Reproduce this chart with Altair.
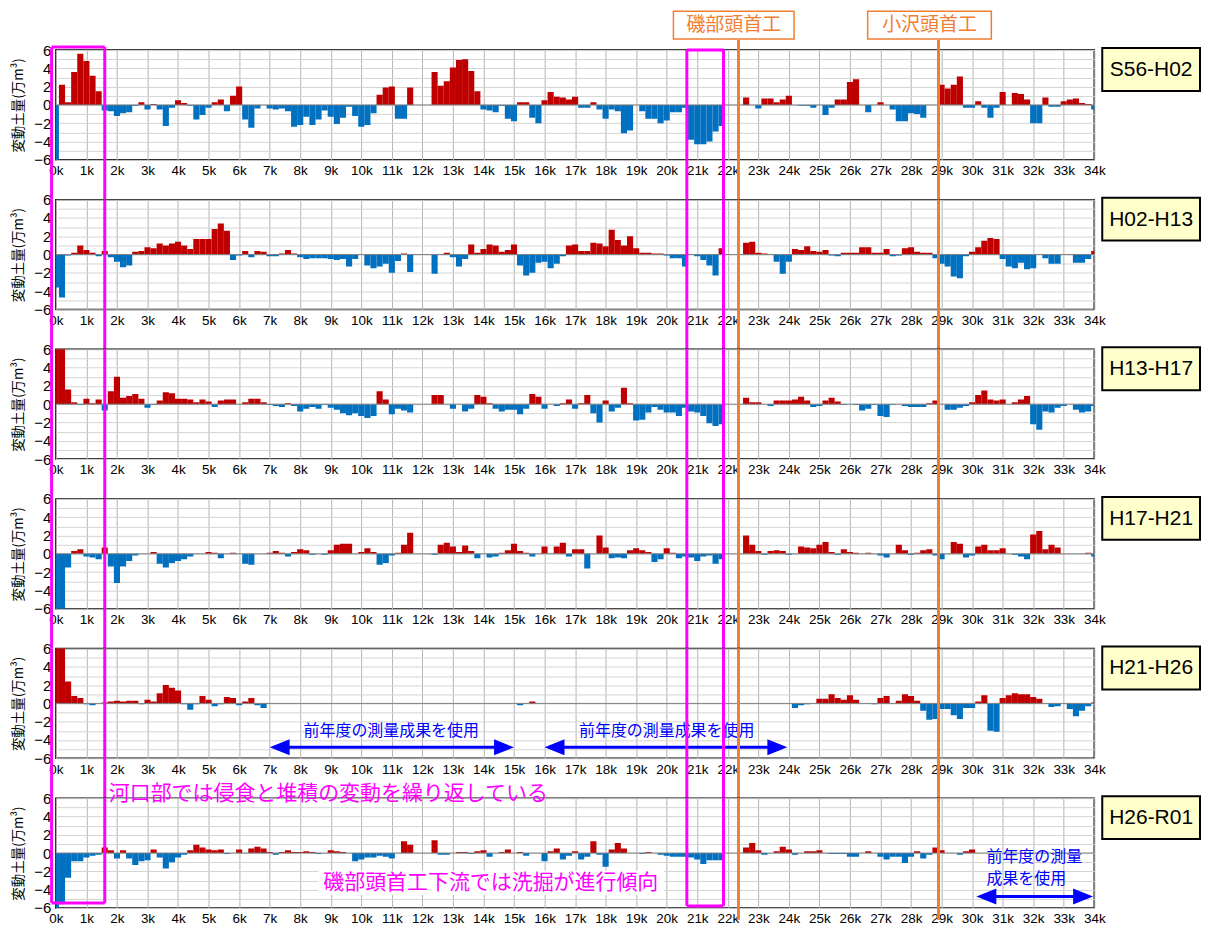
import altair as alt
import pandas as pd

# survey stations (k = km from river mouth), one bar every 0.2 km
KM = [round(i * 0.2, 1) for i in range(171)]
PERIODS = ["S56-H02", "H02-H13", "H13-H17", "H17-H21", "H21-H26", "H26-R01"]

S56_H02 = [
    -6.2, 2.2, 0.3, 3.6, 5.6,
    4.8, 3.2, 1.5, -0.6, -0.7,
    -1.2, -0.9, -0.8, -0.1, 0.3,
    -0.5, 0.1, -0.5, -2.3, -0.3,
    0.5, 0.2, -0.1, -1.6, -1.1,
    -0.3, 0.3, 0.6, -0.7, 1.0,
    2.0, -1.6, -2.5, -0.4, 0.0,
    -0.4, -0.5, -0.4, -0.7, -2.4,
    -2.2, -1.3, -2.2, -1.6, -0.6,
    -1.3, -2.1, -1.4, -0.2, -1.2,
    -2.4, -2.2, -0.9, 1.1, 1.9,
    2.0, -1.5, -1.5, 1.9, 0.0,
    0.0, 0.0, 3.6, 2.1, 2.6,
    4.1, 4.9, 5.0, 3.7, 1.5,
    -0.5, -0.6, -0.8, -0.1, -1.5,
    -1.8, 0.3, 0.3, -1.4, -2.0,
    0.5, 1.4, 0.9, 0.8, 0.6,
    0.9, -0.3, -0.3, 0.3, -0.5,
    -1.5, -0.5, -0.7, -3.1, -2.8,
    0.0, -0.7, -1.5, -1.5, -2.0,
    -1.7, -0.8, -0.8, -0.3, -3.8,
    -4.3, -4.3, -4.0, -2.9, -2.3,
    0.0, 0.0, 0.0, 0.8, 0.0,
    -0.4, 0.7, 0.7, 0.3, 0.6,
    1.0, 0.0, -0.1, -0.1, -0.3,
    0.0, -1.1, -0.3, 0.6, 0.6,
    2.5, 2.8, 0.0, -0.8, 0.0,
    0.3, 0.0, -0.5, -1.8, -1.8,
    -0.9, -1.0, -1.4, 0.0, 0.0,
    2.2, 1.8, 2.2, 3.1, -0.3,
    -0.3, 0.4, -0.3, -1.4, -0.3,
    1.4, 0.0, 1.3, 1.2, 0.6,
    -2.0, -2.0, 0.8, -0.2, -0.2,
    0.4, 0.6, 0.7, 0.2, 0.1,
    -0.5,
]

H02_H13 = [
    -3.6, -4.7, -0.1, 0.2, 1.0,
    0.5, 0.2, -0.2, 0.4, -0.3,
    -0.8, -1.4, -1.2, 0.3, 0.4,
    0.8, 0.7, 1.2, 1.0, 1.2,
    1.4, 1.0, 0.6, 1.7, 1.7,
    1.7, 2.8, 3.4, 2.6, -0.6,
    -0.1, 0.4, -0.3, 0.4, 0.3,
    -0.2, -0.2, 0.1, 0.5, 0.1,
    -0.3, -0.5, -0.4, -0.4, -0.4,
    -0.5, -0.6, -0.5, -1.3, -0.5,
    0.0, -1.2, -1.5, -1.3, -1.0,
    -2.0, -0.7, 0.1, -1.9, 0.0,
    0.0, 0.0, -2.1, 0.0, 0.2,
    -0.3, -1.3, -0.5, 1.1, 0.2,
    0.6, 1.1, 1.0, 0.3, 0.5,
    1.1, -1.2, -2.3, -2.0, -0.9,
    -0.8, -1.5, -1.0, -0.2, 1.0,
    1.1, 0.4, 0.4, 1.3, 1.2,
    0.9, 2.7, 1.6, 1.0, 2.0,
    0.7, 0.2, 0.2, 0.1, 0.1,
    -0.1, -0.4, -0.4, -1.3, 0.0,
    -0.2, -0.6, -1.2, -2.3, 0.7,
    0.0, 0.0, 0.0, 1.3, 1.4,
    0.2, 0.1, 0.0, -0.8, -2.1,
    -0.8, 0.6, 0.5, 0.9, 0.4,
    0.3, 0.5, -0.1, -0.2, 0.2,
    0.2, 0.2, 0.8, 0.8, 0.2,
    0.2, 0.6, -0.2, -0.1, 0.7,
    0.8, 0.3, 0.2, 0.2, -0.4,
    -1.0, -1.3, -2.4, -2.6, -0.2,
    0.3, 0.8, 1.5, 1.8, 1.7,
    -0.5, -1.3, -1.5, -0.9, -1.6,
    -1.5, 0.0, -0.4, -1.0, -1.0,
    0.0, 0.0, -0.9, -0.9, -0.5,
    0.4,
]

H13_H17 = [
    6.2, 6.2, 1.6, 0.2, -0.1,
    0.6, 0.1, 0.5, -0.7, 1.4,
    3.0, 0.7, 0.9, 1.1, 0.6,
    -0.4, -0.1, 0.4, 1.3, 1.2,
    0.6, 0.6, 0.5, 0.2, 0.5,
    0.3, -0.3, 0.4, 0.5, 0.5,
    0.0, 0.2, 0.6, 0.6, 0.2,
    -0.1, -0.2, -0.3, 0.1, -0.2,
    -0.8, -0.5, -0.3, -0.5, -0.1,
    -0.4, -0.6, -1.0, -1.2, -1.0,
    -1.3, -1.5, -1.3, 1.4, 0.5,
    -1.1, -0.5, -0.7, -0.9, 0.0,
    0.0, 0.0, 1.0, 1.0, 0.0,
    -0.5, 0.0, -0.8, -0.5, 1.0,
    0.8, 0.1, -0.5, -0.8, -0.6,
    -0.6, -1.1, -0.5, 1.1, 0.8,
    -0.5, 0.0, -0.2, 0.1, 0.5,
    -0.5, 0.1, 1.0, -1.0, -2.0,
    0.4, -0.8, -0.4, 1.8, 0.1,
    -1.8, -1.7, -0.9, -0.3, -0.6,
    -0.9, -0.9, -1.3, -0.4, -0.8,
    -0.9, -1.3, -2.1, -2.4, -2.2,
    0.0, 0.0, 0.0, 0.7, 0.2,
    0.2, 0.0, -0.2, 0.4, 0.4,
    0.4, 0.5, 0.8, 0.4, -0.3,
    -0.2, 0.4, 0.7, 0.3, -0.1,
    0.0, -0.1, -0.7, -0.5, -0.1,
    -1.3, -1.4, -0.1, 0.0, -0.2,
    -0.3, -0.3, -0.3, 0.1, 0.4,
    0.0, -0.6, -0.6, -0.4, -0.2,
    0.2, 1.0, 1.5, 0.5, 0.4,
    0.5, 0.0, 0.2, 0.5, 0.9,
    -2.2, -2.8, -0.8, -0.9, -0.4,
    -0.2, 0.0, -0.6, -0.9, -0.8,
    -0.2,
]

H17_H21 = [
    -6.2, -6.2, -1.5, 0.3, 0.5,
    -0.3, -0.4, -0.6, 0.7, -1.4,
    -3.2, -1.4, -0.8, -0.2, 0.0,
    0.0, 0.2, -1.1, -1.5, -1.0,
    -0.8, -0.6, -0.3, 0.0, 0.0,
    0.2, 0.1, -0.5, 0.0, 0.1,
    0.0, -1.1, -1.2, 0.0, 0.0,
    0.1, 0.3, 0.1, -0.3, 0.2,
    0.5, 0.4, -0.1, 0.0, -0.1,
    0.4, 1.0, 1.1, 1.1, 0.0,
    0.2, 0.6, 0.2, -1.2, -1.0,
    -0.2, 0.1, 1.0, 2.3, 0.0,
    0.0, 0.0, -0.1, 1.0, 1.2,
    0.8, 0.2, 0.9, 0.3, -0.5,
    0.0, -0.4, -0.3, 0.1, 0.4,
    1.1, 0.3, 0.1, -0.3, 0.0,
    0.8, 0.0, 0.8, 1.2, -0.3,
    0.5, 0.5, -1.6, 0.0, 2.0,
    0.7, -0.5, -0.4, -0.5, 0.4,
    0.6, 0.4, 0.2, -0.9, -0.6,
    0.6, 0.1, -0.5, -0.3, -0.4,
    -0.8, -0.3, -0.2, -1.1, -0.6,
    0.0, 0.0, 0.0, 2.0, 1.0,
    0.3, -0.1, 0.3, 0.4, 0.3,
    -0.1, 0.0, 0.8, 0.7, 0.6,
    1.0, 1.3, 0.2, -0.1, 0.5,
    0.2, 0.1, 0.0, 0.1, 0.0,
    -0.2, -0.4, 0.0, 1.0, 0.4,
    -0.1, 0.1, 0.4, 0.5, -0.2,
    -0.6, 0.0, 1.3, 1.1, -0.4,
    -0.2, 0.8, 1.0, 0.4, 0.4,
    0.6, 0.0, -0.1, -0.3, -0.6,
    2.1, 2.5, 0.5, 1.0, 0.7,
    0.0, 0.0, 0.0, 0.0, 0.1,
    -0.3,
]

H21_H26 = [
    6.2, 6.2, 2.4, 0.8, 0.6,
    -0.1, -0.2, 0.0, 0.1, 0.2,
    0.3, 0.2, 0.3, 0.3, -0.1,
    0.4, 0.2, 1.1, 2.0, 1.7,
    1.4, -0.1, -0.7, -0.1, 0.8,
    0.4, -0.3, -0.1, 0.7, 0.6,
    -0.2, 0.2, 0.6, -0.2, -0.5,
    0.0, 0.0, 0.0, 0.0, 0.0,
    0.0, 0.0, 0.0, 0.0, 0.0,
    0.0, 0.0, 0.0, 0.0, 0.0,
    0.0, 0.0, 0.0, 0.0, 0.0,
    0.0, 0.0, 0.0, 0.0, 0.0,
    0.0, 0.0, 0.0, 0.0, 0.0,
    0.0, 0.0, 0.0, 0.0, 0.0,
    0.0, 0.0, 0.0, 0.0, 0.0,
    0.0, -0.2, 0.0, 0.2, 0.0,
    0.0, 0.0, 0.0, 0.0, 0.0,
    0.0, 0.0, 0.0, 0.0, 0.0,
    0.0, 0.0, 0.0, 0.0, 0.0,
    0.0, 0.0, 0.0, 0.0, 0.0,
    0.0, 0.0, 0.0, 0.0, 0.0,
    0.0, 0.0, 0.0, 0.0, 0.0,
    0.0, 0.0, 0.0, 0.0, 0.0,
    0.0, 0.0, 0.0, 0.0, 0.0,
    0.0, -0.5, -0.2, -0.1, 0.0,
    0.5, 0.5, 1.0, 0.6, 0.4,
    0.9, 0.4, 0.0, 0.0, -0.1,
    0.6, 0.8, 0.0, 0.3, 1.0,
    0.8, 0.3, -0.8, -1.8, -1.7,
    -0.6, -0.6, -1.3, -1.7, -0.5,
    -0.5, 0.2, 0.9, -3.0, -3.1,
    0.6, 0.9, 1.1, 1.0, 1.0,
    0.7, 0.5, 0.0, -0.4, -0.3,
    0.0, -0.6, -1.4, -0.8, -0.3,
    0.1,
]

H26_R01 = [
    -6.2, -5.6, -2.7, -0.9, -0.9,
    -0.5, -0.3, -0.2, 0.6, 0.3,
    -0.6, 0.3, -0.6, -1.3, -0.9,
    -0.8, 0.4, -0.5, -1.7, -1.0,
    -0.5, -0.2, 0.3, 0.9, 0.6,
    0.4, 0.3, 0.4, -0.1, 0.0,
    0.4, 0.0, 0.5, 0.7, 0.5,
    0.1, -0.2, 0.1, 0.3, 0.1,
    0.1, 0.2, 0.1, -0.1, 0.0,
    0.3, 0.2, 0.1, 0.0, -0.9,
    -0.7, -0.5, -0.5, -0.3, -0.4,
    -0.6, 0.0, 1.3, 0.9, 0.0,
    0.0, 0.0, 1.4, -0.2, -0.2,
    0.0, 0.1, 0.1, -0.1, 0.2,
    0.3, -0.4, 0.0, 0.1, 0.4,
    0.0, 0.1, -0.3, 0.0, 0.0,
    -0.9, 0.2, 0.5, -0.7, -0.3,
    0.2, -0.7, -0.4, 1.3, -0.2,
    -1.5, 0.4, 1.1, 0.5, 0.0,
    0.0, -0.1, 0.1, 0.0, -0.2,
    -0.3, -0.4, -0.4, -0.4, -0.5,
    -0.7, -1.2, -0.8, -0.8, -0.8,
    0.0, 0.0, 0.0, 0.6, 1.1,
    0.3, -0.2, 0.0, 0.2, 0.7,
    0.4, -0.2, 0.0, 0.2, 0.2,
    0.3, 0.0, -0.1, -0.1, -0.1,
    -0.4, -0.4, 0.0, 0.2, 0.0,
    -0.4, -0.7, -0.4, -0.4, -1.1,
    -0.4, 0.2, -0.6, -0.2, 0.6,
    0.3, 0.0, 0.0, -0.2, 0.2,
    0.4, 0.0, 0.0, 0.0, 0.0,
    0.0, 0.0, 0.0, 0.0, 0.0,
    0.0, 0.0, 0.0, 0.0, 0.0,
    0.0, 0.0, 0.0, 0.0, 0.0,
    0.0,
]

SERIES = [S56_H02, H02_H13, H13_H17, H17_H21, H21_H26, H26_R01]
for s in SERIES:
    assert len(s) == len(KM), len(s)

# annotations
WEIR_NAMES = ["磯部頭首工", "小沢頭首工"]
WEIR_KM = [22.35, 28.9]
WEIR_BOX_L = [20.22, 26.58]
WEIR_BOX_R = [24.17, 30.63]
MAG_BOX_L = [-0.14, 20.66]
MAG_BOX_R = [1.60, 21.86]
NOTE_TOP = "河口部では侵食と堆積の変動を繰り返している"
NOTE_BOTTOM = "磯部頭首工下流では洗掘が進行傾向"
REUSE_TEXT = "前年度の測量成果を使用"

W, H, GAP = 1041, 110, 40
RED, BLUE = "#C00000", "#0070C0"
ORANGE = "#F07E32"
MAGENTA = "#FF00FF"
ABLUE = "#0000FF"
JP = "Noto Sans CJK JP"
LAT = "Liberation Sans"

XS = alt.Scale(domain=[0, 34], nice=False, zero=False)
YS = alt.Scale(domain=[-6, 6], nice=False, zero=False)
XAX = alt.Axis(values=list(range(35)), labelExpr="datum.value + 'k'", grid=True,
               gridColor="#b4b4b4", gridWidth=1, ticks=False, domain=False,
               labelFlush=False, labelOverlap=False, labelPadding=4,
               labelFontSize=13.5, labelFont=LAT, labelColor="black", title=None)
YAX = alt.Axis(values=list(range(-6, 7)),
               labelExpr="datum.value % 2 == 0 ? datum.label : ''",
               grid=True, gridColor="#d4d4d4", gridWidth=1, ticks=False, domain=False,
               labelFlush=False, labelPadding=5, labelFontSize=15, labelFont=LAT,
               labelColor="black", title="変動土量(万m³)", titleFont=JP,
               titleFontSize=13.5, titleFontWeight="normal", titleColor="black",
               titlePadding=8)
LEFT_HEAD = "M-1,0L1,-0.8L1,0.8Z"
RIGHT_HEAD = "M1,0L-1,-0.8L-1,0.8Z"


def X(field):
    return alt.X(field, scale=XS, axis=XAX)


def Y(field):
    return alt.Y(field, scale=YS, axis=YAX)


def arrow_layers(x_tips, y):
    l_tip, r_tip = x_tips
    off = 10 / (W / 34)
    df = pd.DataFrame({"a": [l_tip + off], "b": [r_tip - off], "y": [y]})
    line = alt.Chart(df).mark_rule(color=ABLUE, strokeWidth=3).encode(
        x=X("a:Q"), x2="b:Q", y=Y("y:Q"))
    lh = alt.Chart(df).mark_point(shape=LEFT_HEAD, size=400, filled=True, opacity=1,
                                  color=ABLUE).encode(x=X("a:Q"), y=Y("y:Q"))
    rh = alt.Chart(df).mark_point(shape=RIGHT_HEAD, size=400, filled=True, opacity=1,
                                  color=ABLUE).encode(x=X("b:Q"), y=Y("y:Q"))
    return [line, lh, rh]


def panel(i):
    df = pd.DataFrame({"km": KM, "v": SERIES[i]})
    bars = alt.Chart(df).transform_calculate(
        x0="datum.km - 0.1", x1="datum.km + 0.1"
    ).mark_rect(clip=True).encode(
        x=X("x0:Q"),
        x2="x1:Q",
        y=Y("v:Q"),
        y2=alt.datum(0),
        color=alt.condition(alt.datum.v > 0, alt.value(RED), alt.value(BLUE)),
    )
    zero = alt.Chart(pd.DataFrame({"z": [0]})).mark_rule(color="#808080", strokeWidth=1).encode(
        y=Y("z:Q"))
    layers = [bars, zero]

    if i == 4:
        layers += arrow_layers((7.0, 15.0), -4.8)
        layers += arrow_layers((16.0, 23.95), -4.8)
        tdf = pd.DataFrame({"x": [10.98, 20.0], "y": [-3.05, -3.05], "t": [REUSE_TEXT, REUSE_TEXT]})
        layers.append(alt.Chart(tdf).mark_text(font=JP, fontSize=16, color=ABLUE,
                                               baseline="middle").encode(
            x=X("x:Q"), y=Y("y:Q"), text="t:N"))
    if i == 5:
        wdf = pd.DataFrame({"a": [8.6], "b": [19.9], "y1": [-1.95], "y2": [-4.6]})
        layers.append(alt.Chart(wdf).mark_rect(color="white").encode(
            x=X("a:Q"), x2="b:Q", y=Y("y1:Q"), y2="y2:Q"))
        ndf = pd.DataFrame({"x": [8.92, 14.24], "y": [6.44, -3.27], "t": [NOTE_TOP, NOTE_BOTTOM]})
        layers.append(alt.Chart(ndf).mark_text(font=JP, fontSize=21, color=MAGENTA,
                                               baseline="middle").encode(
            x=X("x:Q"), y=Y("y:Q"), text="t:N"))
        layers += arrow_layers((30.14, 33.96), -4.75)
        rdf = pd.DataFrame({"x": [30.47, 30.47], "y": [-0.44, -2.84],
                            "t": ["前年度の測量", "成果を使用"]})
        layers.append(alt.Chart(rdf).mark_text(font=JP, fontSize=16, color=ABLUE,
                                               align="left", baseline="middle").encode(
            x=X("x:Q"), y=Y("y:Q"), text="t:N"))

    # orange weir lines, continuous across panels
    o_top = -10 if i == 0 else 0
    o_bot = H + 12 if i == 5 else H + GAP
    layers.append(alt.Chart(pd.DataFrame({"x": WEIR_KM})).mark_rule(
        color=ORANGE, strokeWidth=3).encode(
        x=X("x:Q"), y=alt.value(o_top), y2=alt.value(o_bot)))

    # magenta frames
    for j, (l, r) in enumerate(zip(MAG_BOX_L, MAG_BOX_R)):
        top = (-3 if j == 0 else 0) if i == 0 else 0
        bot = (105 if j == 0 else 108) if i == 5 else H + GAP
        mdf = pd.DataFrame({"x": [l, r]})
        layers.append(alt.Chart(mdf).mark_rule(color=MAGENTA, strokeWidth=3).encode(
            x=X("x:Q"), y=alt.value(top), y2=alt.value(bot)))
        if i == 0 or i == 5:
            hdf = pd.DataFrame({"a": [l], "b": [r]})
            layers.append(alt.Chart(hdf).mark_rule(color=MAGENTA, strokeWidth=3).encode(
                x=X("a:Q"), x2="b:Q", y=alt.value(top if i == 0 else bot)))

    # period label box
    ldf = pd.DataFrame({"label": [PERIODS[i]]})
    layers.append(alt.Chart(ldf).mark_rect(fill="#FFFFCC", stroke="black", strokeWidth=2).encode(
        x=alt.value(W + 8), x2=alt.value(W + 106), y=alt.value(-2), y2=alt.value(41)))
    layers.append(alt.Chart(ldf).mark_text(font=LAT, fontSize=21, color="black",
                                           baseline="middle").encode(
        x=alt.value(W + 57), y=alt.value(20), text="label:N"))

    if i == 0:
        bdf = pd.DataFrame({"l": WEIR_BOX_L, "r": WEIR_BOX_R, "name": WEIR_NAMES})
        layers.append(alt.Chart(bdf).mark_rect(fill="white", stroke=ORANGE, strokeWidth=1.5).encode(
            x=X("l:Q"), x2="r:Q", y=alt.value(-39), y2=alt.value(-11)))
        layers.append(alt.Chart(bdf).transform_calculate(c="(datum.l + datum.r) / 2").mark_text(
            font=JP, fontSize=19, color=ORANGE, baseline="middle").encode(
            x=X("c:Q"), y=alt.value(-25), text="name:N"))

    return alt.layer(*layers).properties(width=W, height=H)


chart = alt.VConcatChart(
    vconcat=[panel(i) for i in range(6)], spacing=GAP, bounds="flush"
).properties(
    padding={"left": 3, "top": 0, "right": 0, "bottom": 0}, background="white"
).configure_view(stroke="black", strokeWidth=1.5)

chart.save("out.html", embed_options={"renderer": "svg", "actions": False})
